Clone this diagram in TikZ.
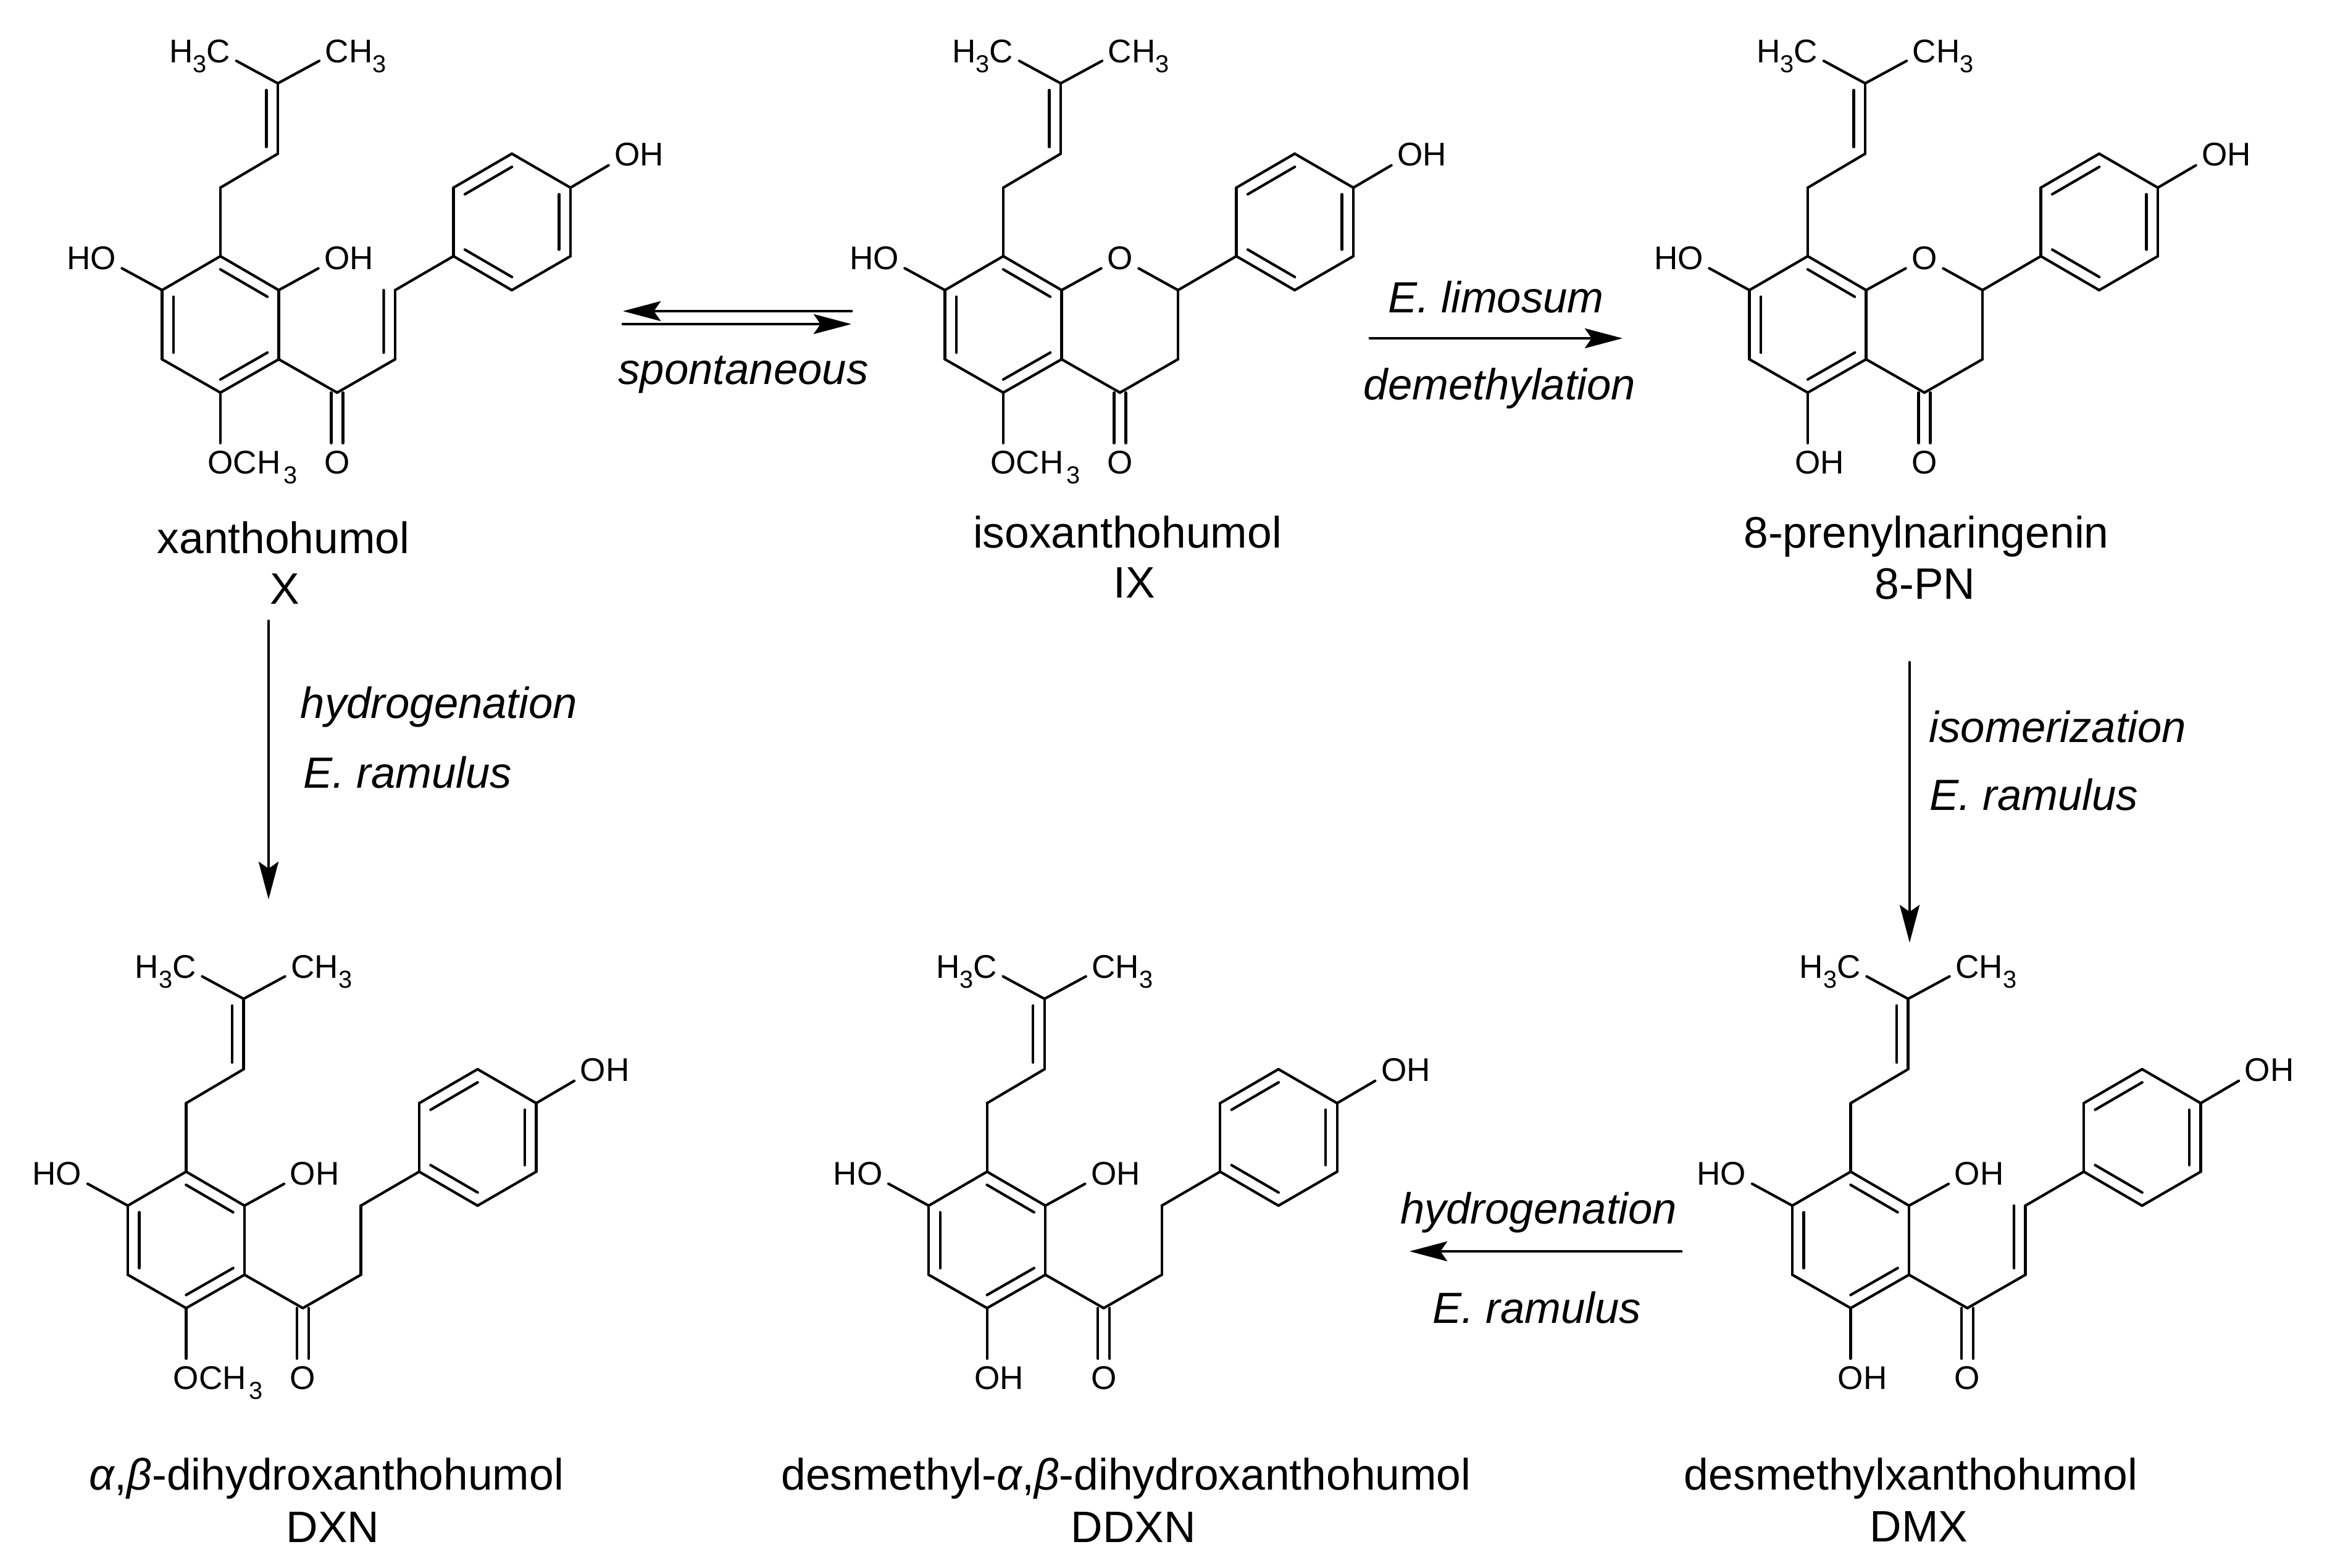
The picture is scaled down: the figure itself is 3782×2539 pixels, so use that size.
\documentclass[tikz,border=0pt]{standalone}
\usepackage{fontspec}
\setmainfont{Liberation Sans}
\usetikzlibrary{arrows.meta,calc}

\begin{document}
\begin{tikzpicture}[x=0.01cm,y=-0.01cm]

    \tikzstyle{bond}=[line width=0.042cm, line cap=round]
    \tikzstyle{atom}=[inner xsep=0.09cm, inner ysep=0.12cm, text height=0.37cm, text depth=0cm, font=\fontsize{15.1pt}{16pt}\selectfont]
    \tikzstyle{compound}=[anchor=base, inner sep=0pt, font=\fontsize{20.3pt}{22pt}\selectfont]
    \tikzstyle{process}=[compound, font=\fontsize{20.1pt}{22pt}\selectfont\itshape]
    \tikzstyle{reaction}=[line width=0.048cm, line cap=round, -{Stealth[length=0.61cm, width=0.32cm, inset=0.11cm]}]

    \newcommand{\lowthree}{\raisebox{-0.16cm}{\fontsize{11.3pt}{12pt}\selectfont 3}}
    \newcommand{\inbond}[2]{\draw[bond] ($(#1)!0.096!(#2)!0.185cm!-90:(#2)$) -- ($(#2)!0.096!(#1)!0.185cm!90:(#1)$);}
    % ring A, prenyl, ring B and the chain between them
    \newcommand{\skeleton}[3]{
        \foreach \n/\x/\y in {r1/0/0, r2/94.5/55, r3/94.5/167, r4/0/221, r5/-94.5/167, r6/-94.5/55,
                p1/0/-111, p2/93/-166, p3/93/-280,
                a1/377.5/0, a2/472/55, a3/567/0, a4/567/-111, a5/472/-166, a6/377.5/-111,
                co/189/221, c1/283/167, c2/283/55} {
            \coordinate (#1\n) at (\x,\y);
        }
        \node[atom] (#1me) at (-3,-332) {\llap{H\lowthree}C};
        \node[atom] (#1mf) at (189,-332) {C\rlap{H\lowthree}};
        \node[atom] (#1ho) at (-190,3) {\llap{H}O};
        \node[atom] (#1oh) at (189,3) {#3};
        \node[atom] (#1op) at (659,-165) {O\rlap{H}};
        \node[atom] (#1sb) at (0,334) {#2};
        \node[atom] (#1ok) at (189,334) {O};
        \foreach \a/\b in {r1/r2, r2/r3, r3/r4, r4/r5, r5/r6, r6/r1,
                r1/p1, p1/p2, p2/p3, p3/me, p3/mf,
                r6/ho, r2/oh, r4/sb, r3/co, co/c1, c1/c2, c2/a1,
                a1/a2, a2/a3, a3/a4, a4/a5, a5/a6, a6/a1, a4/op} {
            \draw[bond] (#1\a) -- (#1\b);
        }
        \foreach \a/\b in {r1/r2, r3/r4, r5/r6, a2/a1, a6/a5, a4/a3, p3/p2} {
            \inbond{#1\a}{#1\b}
        }
        \draw[bond] ([xshift=-0.095cm]#1co) -- ([xshift=-0.095cm]#1ok.north);
        \draw[bond] ([xshift=0.095cm]#1co) -- ([xshift=0.095cm]#1ok.north);
    }
    \newcommand{\enone}[1]{\draw[bond] ($(#1c2)!0.185cm!-90:(#1c1)$) -- ($(#1c1)!0.096!(#1c2)!0.185cm!90:(#1c2)$);}
    \newcommand{\methoxy}{O\rlap{CH\kern0.05cm\lowthree}}

    \useasboundingbox (0,0) rectangle (3782,2539);

    \begin{scope}[shift={(357,415)}]
        \skeleton{xan}{\methoxy}{O\rlap{H}}
        \enone{xan}
    \end{scope}
    \begin{scope}[shift={(1625,415)}]
        \skeleton{ixn}{\methoxy}{O}
        \draw[bond] (ixnoh) -- (ixnc2);
    \end{scope}
    \begin{scope}[shift={(2928,415)}]
        \skeleton{pin}{O\rlap{H}}{O}
        \draw[bond] (pinoh) -- (pinc2);
    \end{scope}
    \begin{scope}[shift={(301.5,1898)}]
        \skeleton{dxn}{\methoxy}{O\rlap{H}}
    \end{scope}
    \begin{scope}[shift={(1598.7,1898)}]
        \skeleton{ddx}{O\rlap{H}}{O\rlap{H}}
    \end{scope}
    \begin{scope}[shift={(2997.5,1898)}]
        \skeleton{dmx}{O\rlap{H}}{O\rlap{H}}
        \enone{dmx}
    \end{scope}

    \node[compound] (xanname) at (459,896) {xanthohumol};
    \node[compound] (xanid) at (461,978) {X};
    \node[compound] (ixnname) at (1826,887) {isoxanthohumol};
    \node[compound] (ixnid) at (1837,968) {IX};
    \node[compound] (pinname) at (3120,887) {8-prenylnaringenin};
    \node[compound] (pinid) at (3118,970) {8-PN};
    \node[compound] (dxnname) at (529,2413) {\textit{α},\textit{β}-dihydroxanthohumol};
    \node[compound] (dxnid) at (539,2498) {DXN};
    \node[compound] (ddxname) at (1824,2413) {desmethyl-\textit{α},\textit{β}-dihydroxanthohumol};
    \node[compound] (ddxid) at (1836,2498) {DDXN};
    \node[compound] (dmxname) at (3095,2413) {desmethylxanthohumol};
    \node[compound] (dmxid) at (3108,2497) {DMX};

    \node[process] (spont) at (1204,622) {spontaneous};
    \node[process] (limo) at (2423,506) {E. limosum};
    \node[process] (demeth) at (2429,647) {demethylation};
    \node[process] (hydroa) at (711,1163) {hydrogenation};
    \node[process] (ramua) at (660,1276) {E. ramulus};
    \node[process] (isom) at (3333,1202) {isomerization};
    \node[process] (ramub) at (3294,1312) {E. ramulus};
    \node[process] (hydrob) at (2492,1982) {hydrogenation};
    \node[process] (ramuc) at (2489,2143) {E. ramulus};

    \coordinate (eqa) at (1379,504);
    \coordinate (eqb) at (1009,504);
    \coordinate (eqc) at (1009,525);
    \coordinate (eqd) at (1379,525);
    \coordinate (lima) at (2219,548);
    \coordinate (limb) at (2628,548);
    \coordinate (hyda) at (435,1006);
    \coordinate (hydb) at (435,1457);
    \coordinate (isoa) at (3093,1073);
    \coordinate (isob) at (3093,1527);
    \coordinate (hyca) at (2723,2027);
    \coordinate (hycb) at (2283,2027);
    \foreach \a/\b in {eqa/eqb, eqc/eqd, lima/limb, hyda/hydb, isoa/isob, hyca/hycb} {
        \draw[reaction] (\a) -- (\b);
    }

\end{tikzpicture}
\end{document}
